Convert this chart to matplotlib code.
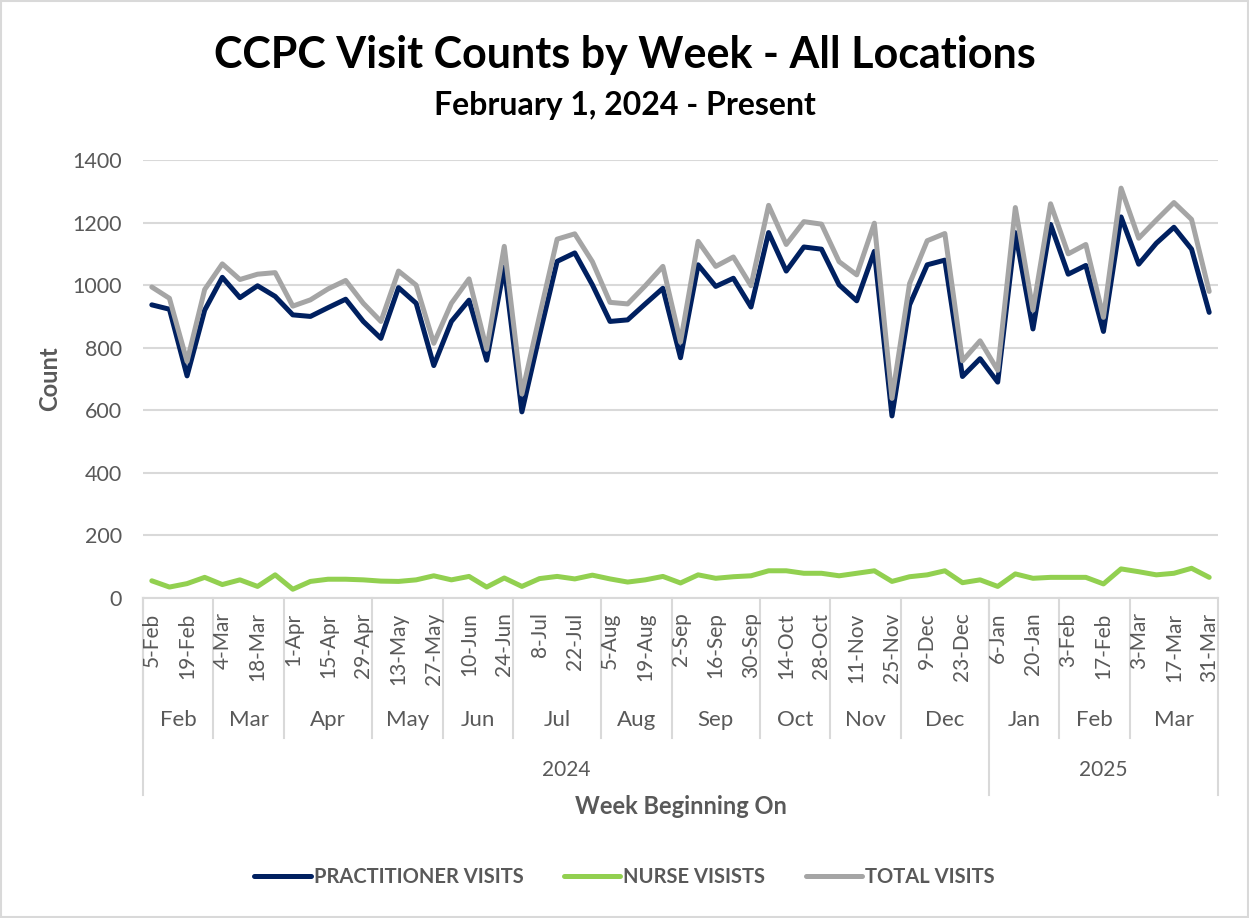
import numpy as np
import pandas as pd
import matplotlib
matplotlib.use("Agg")
import matplotlib.pyplot as plt
import matplotlib.transforms as mtransforms
from matplotlib.patches import Rectangle

plt.rcParams['font.family'] = ['Lato', 'DejaVu Sans']

# weekly counts, week beginning 5-Feb-2024 .. 31-Mar-2025
practitioner = [937, 923, 710, 920, 1025, 960, 998, 964, 905, 900,
                928, 955, 884, 830, 992, 942, 743, 884, 952, 760,
                1058, 595, 840, 1076, 1103, 1001, 884, 889, 940, 990,
                768, 1065, 996, 1022, 930, 1168, 1045, 1122, 1115, 1001,
                950, 1108, 582, 937, 1065, 1080, 708, 765, 690, 1168,
                860, 1194, 1035, 1063, 852, 1218, 1067, 1134, 1185, 1115,
                913]
nurse = [55, 35, 46, 66, 43, 58, 37, 74, 28, 53,
         60, 60, 58, 54, 53, 58, 71, 58, 69, 35,
         64, 37, 62, 69, 61, 73, 61, 51, 58, 69,
         48, 74, 63, 68, 71, 87, 87, 79, 79, 71,
         79, 87, 53, 68, 74, 87, 49, 58, 37, 77,
         63, 66, 66, 66, 45, 93, 84, 74, 79, 95,
         66]
total = [994, 958, 756, 986, 1068, 1018, 1035, 1040, 933, 953,
         988, 1015, 942, 884, 1045, 1000, 814, 942, 1020, 795,
         1124, 652, 902, 1147, 1164, 1075, 945, 940, 998, 1060,
         818, 1140, 1060, 1090, 998, 1255, 1130, 1203, 1195, 1075,
         1033, 1198, 638, 1005, 1142, 1165, 758, 822, 728, 1248,
         920, 1260, 1100, 1130, 897, 1310, 1150, 1208, 1264, 1210,
         980]

weeks = pd.date_range("2024-02-05", periods=len(total), freq="7D")
week_labels = [f"{d.day}-{d.strftime('%b')}" for d in weeks]

txt = '#595959'
grid = '#D9D9D9'

fig = plt.figure(figsize=(12.49, 9.18), dpi=100)
ax = fig.add_axes([143 / 1249, 1 - 598 / 918, 1075 / 1249, 438 / 918])

x = np.arange(len(total))
ax.plot(x, practitioner, color='#002060', lw=3.6, solid_joinstyle='round',
        solid_capstyle='round', label='PRACTITIONER VISITS')
ax.plot(x, nurse, color='#92D050', lw=3.6, solid_joinstyle='round',
        solid_capstyle='round', label='NURSE VISISTS')
ax.plot(x, total, color='#A5A5A5', lw=3.6, solid_joinstyle='round',
        solid_capstyle='round', label='TOTAL VISITS')

ax.set_xlim(-0.5, len(total) - 0.5)
ax.set_ylim(0, 1400)
ax.set_yticks(range(0, 1401, 200))
ax.tick_params(axis='y', length=0, pad=15, labelsize=15.5, labelcolor=txt)
ax.set_xticks([])
ax.grid(axis='y', color=grid, lw=1.5)
ax.set_axisbelow(True)
for s in ['left', 'right', 'top']:
    ax.spines[s].set_visible(False)
ax.spines['bottom'].set_color(grid)
ax.spines['bottom'].set_linewidth(1.5)

tr = mtransforms.blended_transform_factory(ax.transData, ax.transAxes)

# level 1: every other week
for i in range(0, len(total), 2):
    ax.text(i, -0.033, week_labels[i], rotation=90, ha='center', va='top',
            fontsize=15, color=txt, transform=tr)

# level 2: months, level 3: years
keys = [(d.year, d.month) for d in weeks]
starts = [0] + [i for i in range(1, len(keys)) if keys[i] != keys[i - 1]]
ends = starts[1:] + [len(keys)]
for a, b in zip(starts, ends):
    ax.text((a + b - 1) / 2, -0.278, weeks[a].strftime('%b'), ha='center',
            va='center', fontsize=16, color=txt, transform=tr)
    ax.plot([a - 0.5, a - 0.5], [0, -0.32], color=grid, lw=1.5,
            transform=tr, clip_on=False)

years = [d.year for d in weeks]
ystarts = [0] + [i for i in range(1, len(years)) if years[i] != years[i - 1]]
yends = ystarts[1:] + [len(years)]
for a, b in zip(ystarts, yends):
    ax.text((a + b - 1) / 2, -0.393, str(years[a]), ha='center', va='center',
            fontsize=15, color=txt, transform=tr)
    ax.plot([a - 0.5, a - 0.5], [0, -0.45], color=grid, lw=1.5,
            transform=tr, clip_on=False)
ax.plot([len(total) - 0.5] * 2, [0, -0.45], color=grid, lw=1.5,
        transform=tr, clip_on=False)

ax.text(0.5, -0.475, 'Week Beginning On', ha='center', va='center',
        fontsize=17, fontweight='bold', color=txt, transform=ax.transAxes)
ax.text(-0.0865, 0.5, 'Count', ha='center', va='center', rotation=90,
        fontsize=17, fontweight='bold', color=txt, transform=ax.transAxes)

fig.text(0.5, 1 - 55 / 918, 'CCPC Visit Counts by Week - All Locations',
         ha='center', va='center', fontsize=31, fontweight='bold')
fig.text(0.5, 1 - 105 / 918, 'February 1, 2024 - Present',
         ha='center', va='center', fontsize=23, fontweight='bold')

fig.legend(loc='center', bbox_to_anchor=(0.5, 1 - 877 / 918), ncol=3,
           frameon=False, prop={'size': 14.5, 'weight': 'bold'},
           labelcolor=txt, handlelength=2.8, handletextpad=0.15,
           columnspacing=2.0)

fig.patches.append(Rectangle((0.001, 0.001), 0.998, 0.998, fill=False,
                             edgecolor=grid, lw=1.5, transform=fig.transFigure))

fig.savefig('out.png', dpi=100)
